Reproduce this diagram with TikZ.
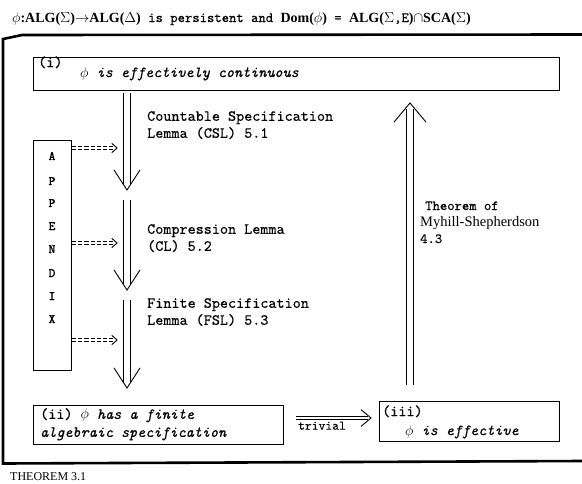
\documentclass[tikz,border=0pt]{standalone}
\usepackage{fontspec}
\setmainfont{Liberation Serif}
\setmonofont{lmmono10-regular.otf}[
  ItalicFont=lmmono10-italic.otf,
  BoldFont=lmmonolt10-bold.otf,
  FakeBold=0.35]
\usetikzlibrary{calc}

% bold serif pieces of the headline formula
\newcommand\sbf[1]{{\rmfamily\bfseries #1}}
% double-shafted arrow with an open V head:
% #1 shaft style, #2 start, #3 tip, #4 shaft cut-back, #5 wing length, #6 wing angle
\newcommand\dblarrow[6]{%
  \draw[#1] (#2) -- ($(#3)!#4!(#2)$);
  \draw[vhead] ($(#3)!#5!#6:(#2)$) -- (#3) -- ($(#3)!#5!-#6:(#2)$);
}

\tikzset{
  frame/.style={line width=2.6pt, line join=miter},
  box/.style={draw, line width=0.9pt, inner sep=0pt, anchor=north west},
  ttxt/.style={font=\fontsize{15.4}{17}\selectfont\ttfamily, inner sep=0pt, align=left},
  itxt/.style={font=\fontsize{15.4}{18}\selectfont\ttfamily\itshape, inner sep=0pt, align=left},
  apxletter/.style={font=\fontsize{13}{14}\selectfont\ttfamily\bfseries, inner sep=0pt},
  bigshaft/.style={double, double distance=5.5pt, line width=0.8pt},
  dashshaft/.style={double, double distance=2.4pt, line width=0.7pt, dash pattern=on 4.2pt off 2pt},
  vhead/.style={line width=0.9pt, line join=miter},
}

\begin{document}
\begin{tikzpicture}[x=1pt, y=-1pt]
\useasboundingbox (0,0) rectangle (582,483);

% headline
\node[anchor=base west, inner sep=0pt, font=\fontsize{14}{16}\selectfont\ttfamily] (head) at (12,22)
  {$\phi$\sbf{:ALG(}$\Sigma$\sbf{)}$\rightarrow$\sbf{ALG(}$\Delta$\sbf{)} is persistent and \sbf{Dom(}$\phi$\sbf{)} = \sbf{ALG(}$\Sigma$,E\sbf{)}$\cap$\sbf{SCA(}$\Sigma$\sbf{)}};

% outer frame
\draw[frame] (582,34.5) -- (22,35) -- (3,39) -- (3,463.5) -- (582,461);

% statement (i)
\node[box, minimum width=526pt, minimum height=33pt] (one) at (33,57) {};
\node[ttxt, anchor=base west] (onelbl) at (38,67) {(i)};
\node[itxt, anchor=base west] (onetxt) at (80,77) {{\upshape$\phi$} is effectively continuous};

% statement (ii)
\node[box, minimum width=250pt, minimum height=39pt] (two) at (33,405) {};
\node[itxt, anchor=north west] (twotxt) at (40,408)
  {{\upshape(ii) $\phi$} has a finite\\algebraic specification};

% statement (iii)
\node[box, minimum width=180pt, minimum height=40pt] (three) at (379,401) {};
\node[ttxt, anchor=base west] (threelbl) at (382,416) {(iii)};
\node[itxt, anchor=base west] (threetxt) at (405,435) {{\upshape$\phi$} is effective};

% appendix column
\node[box, minimum width=38pt, minimum height=230pt] (apx) at (33,140) {};
\foreach \l/\y in {A/160, P/185, P/207, E/230, N/253, D/277, I/300, X/323}
  \node[apxletter, anchor=base] at (52,\y) {\l};

% chain of lemmas
\coordinate (a1s) at (127,93);   \coordinate (a1t) at (127,190);
\coordinate (a2s) at (127,200);  \coordinate (a2t) at (127,290);
\coordinate (a3s) at (127,300);  \coordinate (a3t) at (127,388);
\dblarrow{bigshaft}{a1s}{a1t}{6pt}{24pt}{33}
\dblarrow{bigshaft}{a2s}{a2t}{6pt}{24pt}{33}
\dblarrow{bigshaft}{a3s}{a3t}{6pt}{24pt}{33}

\node[ttxt, anchor=north west] (csl) at (147,111) {Countable Specification\\Lemma (CSL) 5.1};
\node[ttxt, anchor=north west] (cl) at (147,224) {Compression Lemma\\(CL) 5.2};
\node[ttxt, anchor=north west] (fsl) at (147,298) {Finite Specification\\Lemma (FSL) 5.3};

% appendix feeds each lemma
\coordinate (d1t) at (117,148);
\coordinate (d2t) at (117,243);
\coordinate (d3t) at (117,340);
\foreach \k in {1,2,3}{
  \coordinate (d\k s) at (apx.east |- d\k t);
  \dblarrow{dashshaft}{d\k s}{d\k t}{2pt}{7pt}{42}
}

% (ii) implies (iii)
\coordinate (tt) at (371,418);
\coordinate (ts2) at (296,418);
\dblarrow{double, double distance=2.6pt, line width=0.8pt}{ts2}{tt}{3pt}{13pt}{40}
\node[anchor=north, inner sep=0pt, font=\fontsize{13}{14}\selectfont\ttfamily] (triv) at (322,421.5) {trivial};

% (iii) implies (i)
\coordinate (us) at (410,385);
\coordinate (ut) at (410,103);
\dblarrow{bigshaft}{us}{ut}{6pt}{25pt}{40}
\node[anchor=base west, inner sep=0pt, font=\fontsize{14}{16}\selectfont\ttfamily] (msa) at (425,210) {Theorem of};
\node[anchor=base west, inner sep=0pt, font=\fontsize{14.5}{16}\selectfont\rmfamily] (msb) at (420,226) {Myhill-Shepherdson};
\node[anchor=base west, inner sep=0pt, font=\fontsize{14}{16}\selectfont\ttfamily] (msc) at (420,243) {4.3};

% caption
\node[anchor=base west, inner sep=0pt, font=\fontsize{12}{13}\selectfont\rmfamily] (cap) at (10,480) {THEOREM 3.1};
\end{tikzpicture}
\end{document}
